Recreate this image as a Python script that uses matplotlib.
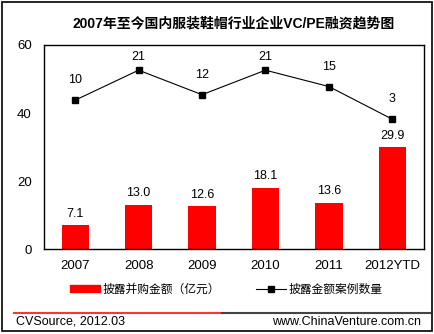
import matplotlib.pyplot as plt
from matplotlib.patches import Rectangle
from matplotlib.lines import Line2D

plt.rcParams['font.family'] = ['Liberation Sans', 'Noto Sans CJK SC', 'DejaVu Sans']

# data
years = ['2007', '2008', '2009', '2010', '2011', '2012YTD']
amount = [7.1, 13.0, 12.6, 18.1, 13.6, 29.9]   # 亿元
cases = [10, 21, 12, 21, 15, 3]
amount_labels = ['7.1', '13.0', '12.6', '18.1', '13.6', '29.9']

title = '2007年至今国内服装鞋帽行业企业VC/PE融资趋势图'
bar_name = '披露并购金额（亿元）'
line_name = '披露金额案例数量'

fig = plt.figure(figsize=(4.35, 3.34), dpi=100)
ax = fig.add_axes([0.1, 0.2536, 0.8747, 0.6117])

x = list(range(len(years)))
ax.bar(x, amount, width=0.43, color='#ff0000', zorder=2)
for xi, v, s in zip(x, amount, amount_labels):
    ax.annotate(s, (xi, v), xytext=(0, 4), textcoords='offset points',
                ha='center', va='bottom', fontsize=9)

ax.set_xlim(-0.5, len(years) - 0.5)
ax.set_ylim(0, 60)
ax.set_yticks([0, 20, 40, 60])
ax.set_xticks(x)
ax.set_xticklabels(years)
ax.tick_params(length=0, labelsize=9.5)
ax.tick_params(axis='y', pad=8.5)
ax.tick_params(axis='x', pad=8)
for sp in ax.spines.values():
    sp.set_linewidth(1.0)
    sp.set_color('black')

# case counts on a hidden second scale
ax2 = ax.twinx()
ax2.plot(x, cases, color='black', linewidth=0.8, marker='s',
         markersize=4.5, zorder=3)
y_lo, y_hi = -44.75, 30.25
ax2.set_ylim(y_lo, y_hi)
# labels sit above the markers, pushed down when they would hit the frame
gap = 7.3
cap = y_hi - 4.4
for xi, c in zip(x, cases):
    ax2.text(xi, min(c + gap, cap), str(c), ha='center', va='center',
             fontsize=9)
ax2.set_yticks([])
for sp in ax2.spines.values():
    sp.set_visible(False)

fig.text(0.536, 0.931, title, ha='center', va='center',
         fontsize=10, fontweight='bold')

# legend
handles = [
    Rectangle((0, 0), 1, 1, color='#ff0000'),
    Line2D([], [], color='black', linewidth=0.8, marker='s', markersize=4.5),
]
fig.legend(handles, [bar_name, line_name], loc='center',
           bbox_to_anchor=(0.52, 0.132), ncol=2, frameon=False,
           fontsize=8.5, handlelength=2.6, handleheight=0.6,
           columnspacing=3.0, handletextpad=0.2)

# footer separator and source texts
fig.add_artist(Line2D([14 / 435, 222 / 435], [1 - 313 / 334] * 2,
                      color='#ff3333', linewidth=1.5))
fig.add_artist(Line2D([222 / 435, 430 / 435], [1 - 313 / 334] * 2,
                      color='#444444', linewidth=1.5))
fig.text(16 / 435, 1 - 322 / 334, 'CVSource, 2012.03', ha='left',
         va='center', fontsize=9)
fig.text(421 / 435, 1 - 322 / 334, 'www.ChinaVenture.com.cn', ha='right',
         va='center', fontsize=9)

# outer frame
fig.add_artist(Rectangle((2 / 435, 3 / 334), 430 / 435, 329 / 334,
                         fill=False, edgecolor='black', linewidth=1.2,
                         transform=fig.transFigure))

fig.savefig('out.png', dpi=100)
